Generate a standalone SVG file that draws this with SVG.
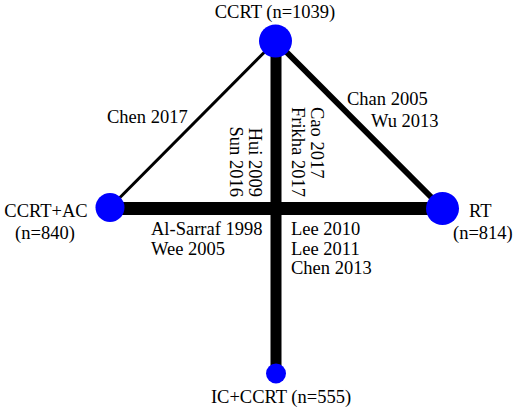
<svg xmlns="http://www.w3.org/2000/svg" width="517" height="412" viewBox="0 0 517 412">
<defs>
<style>
.node{fill:#0000FF}
.edge{stroke:#000;fill:none}
</style>
</defs>
<rect width="517" height="412" fill="#fff"/>
<g id="connectors">
<line class="edge" x1="275.5" y1="41" x2="110" y2="207.5" stroke-width="3"/>
<line class="edge" x1="275.5" y1="41" x2="442.5" y2="208.5" stroke-width="6"/>
<line class="edge" x1="276" y1="41" x2="276" y2="373.5" stroke-width="11"/>
<line class="edge" x1="110" y1="208.5" x2="442.5" y2="208.5" stroke-width="13"/>
</g>
<g id="edge-labels">
<text font-family="Liberation Serif" font-size="18.5" x="107" y="123">Chen 2017</text>
<text font-family="Liberation Serif" font-size="18.5" x="347" y="105">Chan 2005</text>
<text font-family="Liberation Serif" font-size="18.5" x="371" y="127">Wu 2013</text>
<text font-family="Liberation Serif" font-size="18.5" transform="translate(249,197) rotate(90)" text-anchor="end">Hui 2009</text>
<text font-family="Liberation Serif" font-size="18.5" transform="translate(230,197) rotate(90)" text-anchor="end">Sun 2016</text>
<text font-family="Liberation Serif" font-size="18.5" transform="translate(311,107) rotate(90)">Cao 2017</text>
<text font-family="Liberation Serif" font-size="18.5" transform="translate(292,107) rotate(90)">Frikha 2017</text>
<text font-family="Liberation Serif" font-size="18.5" x="151" y="235">Al-Sarraf 1998</text>
<text font-family="Liberation Serif" font-size="18.5" x="151" y="255">Wee 2005</text>
<text font-family="Liberation Serif" font-size="18.5" x="291" y="235">Lee 2010</text>
<text font-family="Liberation Serif" font-size="18.5" x="291" y="254.5">Lee 2011</text>
<text font-family="Liberation Serif" font-size="18.5" x="291" y="274">Chen 2013</text>
</g>
<g id="node-ccrt">
<circle class="node" cx="275.5" cy="41" r="16.5"/>
<text font-family="Liberation Serif" font-size="18.5" x="275" y="18" text-anchor="middle">CCRT (n=1039)</text>
</g>
<g id="node-ccrt-ac">
<circle class="node" cx="110" cy="207.5" r="14.5"/>
<text font-family="Liberation Serif" font-size="18.5" x="46" y="217" text-anchor="middle">CCRT+AC</text>
<text font-family="Liberation Serif" font-size="18.5" x="45" y="239" text-anchor="middle">(n=840)</text>
</g>
<g id="node-rt">
<circle class="node" cx="442.5" cy="208.5" r="16.5"/>
<text font-family="Liberation Serif" font-size="18.5" x="469" y="217">RT</text>
<text font-family="Liberation Serif" font-size="18.5" x="453" y="239">(n=814)</text>
</g>
<g id="node-ic-ccrt">
<circle class="node" cx="276" cy="373.5" r="10"/>
<text font-family="Liberation Serif" font-size="18.5" x="281" y="403" text-anchor="middle">IC+CCRT (n=555)</text>
</g>
</svg>
